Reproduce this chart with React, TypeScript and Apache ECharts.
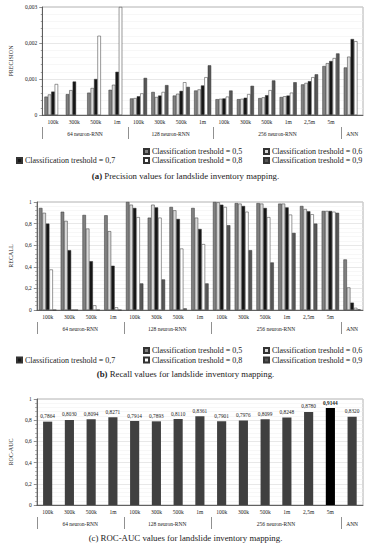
import React, { useEffect, useRef } from "react";
import * as echarts from "echarts";

const FONT = "Liberation Serif";

const categories = ["100k", "300k", "500k", "1m", "100k", "300k", "500k", "1m", "100k", "300k", "500k", "1m", "2,5m", "5m", ""];
const groupNames = ["64 neuron-RNN", "128 neuron-RNN", "256 neuron-RNN", "ANN"];
const groupSizes = [4, 4, 6, 1];
const thresholdNames = [
  "Classification treshold = 0,5",
  "Classification treshold = 0,6",
  "Classification treshold = 0,7",
  "Classification treshold = 0,8",
  "Classification treshold = 0,9",
];

// Precision values
const precision05 = [0.00051, 0.00058, 0.00062, 0.0007, 0.00046, 0.00064, 0.00054, 0.00068, 0.00044, 0.00044, 0.00047, 0.0005, 0.00085, 0.00136, 0.00132];
const precision06 = [0.00057, 0.00069, 0.00075, 0.00084, 0.00047, 0.0005, 0.00059, 0.00071, 0.00045, 0.00045, 0.00049, 0.00052, 0.00089, 0.00144, 0.00162];
const precision07 = [0.00065, 0.00093, 0.001, 0.0012, 0.00052, 0.00054, 0.00067, 0.00082, 0.00046, 0.00048, 0.00055, 0.00054, 0.00094, 0.0015, 0.00211];
const precision08 = [0.00086, null, 0.0022, 0.003, 0.0006, 0.00064, 0.00091, 0.00105, 0.00051, 0.00058, 0.00069, 0.00062, 0.00105, 0.00158, 0.00205];
const precision09 = [null, null, null, null, 0.00103, 0.00083, 0.00078, 0.00138, 0.00068, 0.00081, 0.00096, 0.00091, 0.00113, 0.00171, null];

// Recall values
const recall05 = [0.945, 0.91, 0.88, 0.877, 1.0, 0.855, 0.954, 0.945, 1.0, 0.99, 0.99, 0.985, 0.963, 0.917, 0.468];
const recall06 = [0.9, 0.825, 0.754, 0.73, 0.975, 0.975, 0.923, 0.855, 0.997, 0.985, 0.985, 0.985, 0.935, 0.917, 0.209];
const recall07 = [0.8, 0.554, 0.452, 0.41, 0.945, 0.95, 0.843, 0.75, 0.975, 0.963, 0.945, 0.95, 0.914, 0.917, 0.068];
const recall08 = [0.375, 0, 0.043, 0.025, 0.86, 0.855, 0.569, 0.61, 0.954, 0.91, 0.86, 0.883, 0.886, 0.91, 0.02];
const recall09 = [0, 0, 0, 0, 0.246, 0.283, 0.015, 0.246, 0.785, 0.554, 0.44, 0.714, 0.8, 0.9, 0.005];

// ROC-AUC values
const rocAuc = [0.7864, 0.803, 0.8094, 0.8271, 0.7914, 0.7893, 0.811, 0.8361, 0.7901, 0.7976, 0.8099, 0.8248, 0.878, 0.9144, 0.832];

const barColors = ["#808080", "#d9d9d9", "#161616", "#ffffff", "#575757"];

export default function App() {
  const ref = useRef<HTMLDivElement>(null);

  useEffect(() => {
    if (!ref.current) return;
    const chart = echarts.init(ref.current, undefined, { renderer: "svg" });

    // second-level axis: 2 slots per category, points at boundaries & mid-points
    const nSlots = categories.length * 2 + 1;
    const groupSlots: string[] = new Array(nSlots).fill("");
    const tickSlots: number[] = [0];
    let start = 0;
    groupSizes.forEach((s, gi) => {
      groupSlots[start * 2 + s] = groupNames[gi];
      start += s;
      if (start < categories.length) tickSlots.push(start * 2);
    });

    const grids = [
      { top: 7, height: 108 },
      { top: 202, height: 108 },
      { top: 399, height: 106 },
    ];

    const axisColor = "#444";
    const xAxes: any[] = [];
    grids.forEach((_, gi) => {
      xAxes.push({
        type: "category",
        gridIndex: gi,
        data: categories,
        axisLine: { lineStyle: { color: axisColor, width: 0.8 } },
        axisTick: { length: 12, lineStyle: { color: axisColor, width: 0.6 } },
        axisLabel: { interval: 0, fontSize: 5.5, margin: 4, fontFamily: FONT, color: "#222" },
        splitLine: { show: false },
      });
      xAxes.push({
        type: "category",
        gridIndex: gi,
        position: "bottom",
        offset: 12,
        boundaryGap: false,
        data: groupSlots,
        axisLine: { show: false },
        axisTick: {
          show: true,
          length: 12,
          interval: (idx: number) => tickSlots.includes(idx),
          lineStyle: { color: axisColor, width: 0.6 },
        },
        axisLabel: {
          interval: (_idx: number, v: string) => v !== "",
          fontSize: 5.5,
          margin: 4,
          fontFamily: FONT,
          color: "#222",
        },
        splitLine: { show: false },
      });
    });

    const yBase = (gi: number, name: string, max: number, interval: number, fmt: (v: number) => string) => ({
      type: "value",
      gridIndex: gi,
      min: 0,
      max,
      interval,
      name,
      nameLocation: "middle",
      nameGap: 22,
      nameTextStyle: { fontSize: 6, fontFamily: FONT, color: "#222" },
      axisLine: { show: true, lineStyle: { color: axisColor, width: 0.8 } },
      axisTick: { show: true, length: 3, lineStyle: { color: axisColor, width: 0.6 } },
      minorTick: { show: true, splitNumber: 5, length: 1.5, lineStyle: { color: axisColor, width: 0.5 } },
      splitLine: { show: true, lineStyle: { color: "#d8d8d8", width: 0.6 } },
      minorSplitLine: { show: true, lineStyle: { color: "#efefef", width: 0.5 } },
      axisLabel: { fontSize: 5.5, margin: 5, fontFamily: FONT, color: "#222", formatter: fmt },
    });

    const fmt3 = (v: number) => (v === 0 ? "0" : v.toFixed(3).replace(".", ","));
    const fmt1 = (v: number) => (v === 0 ? "0" : Math.abs(v - 1) < 1e-9 ? "1" : v.toFixed(1).replace(".", ","));

    const precisionSets = [precision05, precision06, precision07, precision08, precision09];
    const recallSets = [recall05, recall06, recall07, recall08, recall09];

    const series: any[] = [];
    precisionSets.forEach((d, k) => {
      series.push({
        type: "bar",
        name: thresholdNames[k],
        xAxisIndex: 0,
        yAxisIndex: 0,
        data: d,
        barGap: "0%",
        barCategoryGap: "20%",
        itemStyle: { color: barColors[k], borderColor: "#333", borderWidth: 0.5 },
      });
    });
    recallSets.forEach((d, k) => {
      series.push({
        type: "bar",
        name: thresholdNames[k],
        xAxisIndex: 2,
        yAxisIndex: 1,
        data: d,
        barGap: "0%",
        barCategoryGap: "20%",
        itemStyle: { color: barColors[k], borderColor: "#333", borderWidth: 0.5 },
      });
    });
    const best = rocAuc.indexOf(Math.max(...rocAuc));
    series.push({
      type: "bar",
      name: "ROC-AUC",
      xAxisIndex: 4,
      yAxisIndex: 2,
      barWidth: "42%",
      data: rocAuc.map((v, i) =>
        i === best ? { value: v, itemStyle: { color: "#000" }, label: { fontWeight: "bold" } } : v
      ),
      itemStyle: { color: "#404040" },
      label: {
        show: true,
        position: "top",
        distance: 3,
        fontSize: 5.3,
        fontFamily: FONT,
        color: "#222",
        formatter: (p: any) => Number(p.value).toFixed(4).replace(".", ","),
      },
    });

    const legendPos = [
      { left: 143, row: 0 },
      { left: 263, row: 0 },
      { left: 16, row: 1 },
      { left: 143, row: 1 },
      { left: 263, row: 1 },
    ];
    const legendTops = [
      [147.5, 156.5],
      [346.5, 356],
    ];
    const legends: any[] = [];
    legendTops.forEach((tops) => {
      thresholdNames.forEach((n, k) => {
        legends.push({
          data: [n],
          left: legendPos[k].left,
          top: tops[legendPos[k].row],
          padding: 0,
          itemWidth: 5,
          itemHeight: 5,
          icon: "rect",
          selectedMode: false,
          textStyle: { fontSize: 8, fontFamily: FONT, color: "#222", padding: [0, 0, 0, -2] },
        });
      });
    });

    const capStyle = {
      fontSize: 8.8,
      fontFamily: FONT,
      fontWeight: "normal",
      color: "#222",
      rich: { b: { fontSize: 8.8, fontFamily: FONT, fontWeight: "bold", color: "#222" } },
    };

    chart.setOption({
      animation: false,
      backgroundColor: "#fff",
      title: [
        { text: "{b|(a)} Precision values for landslide inventory mapping.", left: "center", top: 171, padding: 0, textStyle: capStyle },
        { text: "{b|(b)} Recall values for landslide inventory mapping.", left: "center", top: 369, padding: 0, textStyle: capStyle },
        { text: "(c) ROC-AUC values for landslide inventory mapping.", left: "center", top: 533, padding: 0, textStyle: capStyle },
      ],
      legend: legends,
      grid: grids.map((g) => ({
        left: 31,
        right: 8,
        top: g.top,
        height: g.height,
        show: true,
        borderColor: "#a0a0a0",
        borderWidth: 0.8,
        containLabel: false,
      })),
      xAxis: xAxes,
      yAxis: [
        yBase(0, "PRECISION", 0.003, 0.001, fmt3),
        yBase(1, "RECALL", 1, 0.2, fmt1),
        yBase(2, "ROC-AUC", 1, 0.2, fmt1),
      ],
      series,
    });

    return () => chart.dispose();
  }, []);

  return (
    <div
      ref={ref}
      style={{ position: "fixed", left: 0, top: 0, width: 371, height: 550, background: "#fff" }}
    />
  );
}
